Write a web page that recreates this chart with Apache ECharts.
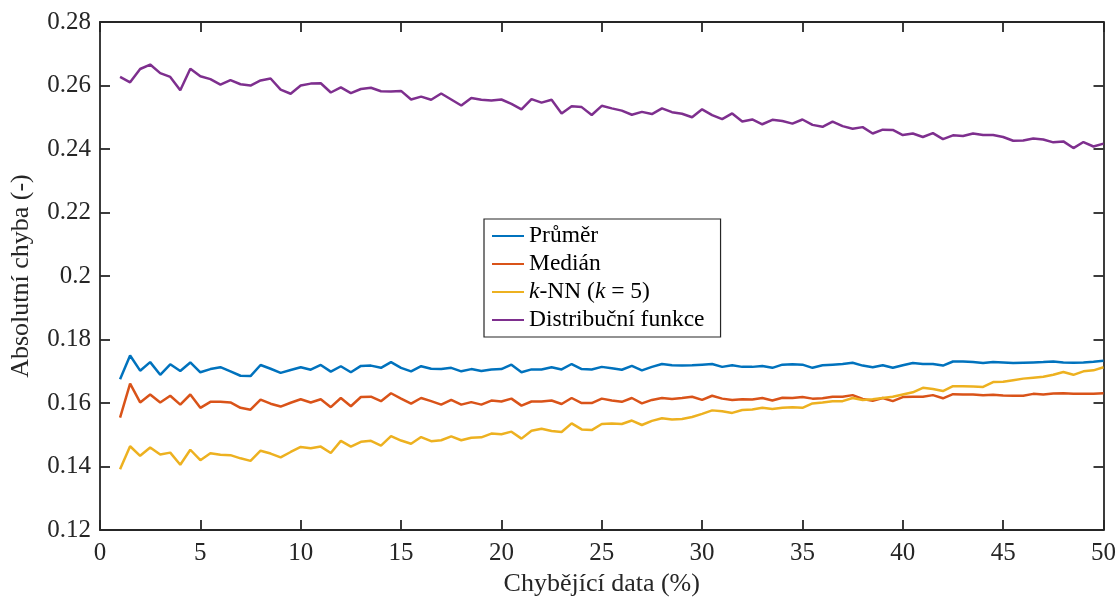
<!DOCTYPE html>
<html>
<head>
<meta charset="utf-8">
<script src="https://cdn.jsdelivr.net/npm/echarts@6/dist/echarts.min.js"></script>
<style>html,body{margin:0;padding:0;background:#fff}#c{width:1119px;height:602px}</style>
</head>
<body>
<div id="c"></div>
<script>
const xValues = [];
for (let i = 0; i < 99; i++) xValues.push(1 + i * 0.5);

const prumer = [0.1675,0.1750,0.1702,0.1729,0.1689,0.1722,0.1701,0.1728,0.1697,0.1707,0.1713,0.1700,0.1686,0.1685,0.1720,0.1708,0.1695,0.1704,0.1713,0.1705,0.1720,0.1699,0.1716,0.1697,
0.1717,0.1718,0.1711,0.1729,0.1711,0.1700,0.1716,0.1708,0.1707,0.1711,0.1700,0.1707,0.1701,0.1706,0.1707,0.1721,0.1697,0.1706,0.1706,0.1713,0.1706,0.1723,0.1707,0.1706,
0.1714,0.1710,0.1705,0.1717,0.1703,0.1714,0.1723,0.1719,0.1718,0.1719,0.1721,0.1723,0.1714,0.1719,0.1714,0.1714,0.1717,0.1711,0.1721,0.1722,0.1721,0.1711,0.1719,0.1721,0.1723,
0.1727,0.1718,0.1713,0.1719,0.1711,0.1719,0.1726,0.1723,0.1723,0.1718,0.1731,0.1731,0.1729,0.1726,0.1729,0.1728,0.1726,0.1727,0.1728,0.1729,0.1731,0.1728,0.1727,0.1728,0.1730,0.1733];

const median = [0.1554,0.1661,0.1602,0.1627,0.1602,0.1623,0.1595,0.1627,0.1585,0.1604,0.1604,0.1602,0.1585,0.1579,0.1611,0.1598,0.1589,0.1601,0.1612,0.1602,0.1612,0.1587,0.1616,0.1590,
0.1619,0.1620,0.1606,0.1631,0.1614,0.1598,0.1616,0.1606,0.1595,0.1610,0.1595,0.1603,0.1595,0.1608,0.1605,0.1614,0.1592,0.1605,0.1605,0.1608,0.1597,0.1616,0.1600,0.1600,
0.1614,0.1608,0.1604,0.1616,0.1599,0.1610,0.1616,0.1613,0.1616,0.1620,0.1610,0.1623,0.1614,0.1610,0.1612,0.1611,0.1616,0.1608,0.1617,0.1616,0.1619,0.1614,0.1615,0.1620,0.1620,
0.1625,0.1613,0.1607,0.1616,0.1606,0.1619,0.1620,0.1620,0.1625,0.1615,0.1628,0.1627,0.1627,0.1625,0.1626,0.1624,0.1623,0.1623,0.1629,0.1627,0.1630,0.1631,0.1629,0.1629,0.1629,0.1631];

const knn = [0.1392,0.1464,0.1434,0.1460,0.1438,0.1444,0.1406,0.1453,0.1420,0.1442,0.1437,0.1436,0.1426,0.1418,0.1450,0.1441,0.1429,0.1446,0.1462,0.1458,0.1463,0.1443,0.1481,0.1463,
0.1478,0.1481,0.1466,0.1496,0.1482,0.1472,0.1493,0.1480,0.1483,0.1495,0.1483,0.1491,0.1492,0.1504,0.1502,0.1510,0.1488,0.1513,0.1519,0.1512,0.1509,0.1536,0.1517,0.1515,
0.1534,0.1536,0.1534,0.1545,0.1531,0.1544,0.1552,0.1548,0.1550,0.1556,0.1566,0.1577,0.1574,0.1569,0.1578,0.1580,0.1585,0.1581,0.1585,0.1587,0.1585,0.1599,0.1602,0.1606,0.1606,
0.1616,0.1610,0.1612,0.1616,0.1620,0.1627,0.1634,0.1648,0.1644,0.1638,0.1653,0.1653,0.1652,0.1651,0.1666,0.1667,0.1672,0.1677,0.1680,0.1683,0.1689,0.1698,0.1689,0.1700,0.1703,0.1713];

const distribucni = [0.2627,0.2610,0.2652,0.2666,0.2639,0.2627,0.2585,0.2653,0.2629,0.2620,0.2603,0.2617,0.2604,0.2600,0.2616,0.2622,0.2587,0.2574,0.2600,0.2606,0.2607,0.2578,0.2594,0.2576,
0.2589,0.2593,0.2582,0.2581,0.2583,0.2556,0.2565,0.2555,0.2575,0.2556,0.2537,0.2561,0.2555,0.2553,0.2556,0.2542,0.2525,0.2557,0.2546,0.2555,0.2512,0.2535,0.2532,0.2507,
0.2536,0.2528,0.2521,0.2508,0.2517,0.2510,0.2528,0.2516,0.2511,0.2500,0.2525,0.2507,0.2494,0.2512,0.2487,0.2493,0.2478,0.2492,0.2488,0.2480,0.2493,0.2476,0.2470,0.2486,0.2472,
0.2464,0.2469,0.2449,0.2461,0.2460,0.2444,0.2449,0.2438,0.2450,0.2431,0.2443,0.2441,0.2449,0.2444,0.2444,0.2438,0.2426,0.2427,0.2433,0.2430,0.2421,0.2424,0.2403,0.2422,0.2408,0.2417];

const seriesNames = ['Průměr', 'Medián', 'k-NN (k = 5)', 'Distribuční funkce'];
const seriesData = [prumer, median, knn, distribucni];
const colors = ['#0072BD', '#D95319', '#EDB120', '#7E2F8E'];
const xName = 'Chybějící data (%)';
const yName = 'Absolutní chyba (-)';

const FONT = '"Liberation Serif", "DejaVu Serif", serif';
const AX = '#262626';

const chart = echarts.init(document.getElementById('c'), null, {renderer: 'canvas'});

function pairs(arr) { return arr.map((v, i) => [xValues[i], v]); }

function axisLine() { return {show: true, onZero: false, lineStyle: {color: AX, width: 1.8}}; }
function tick() { return {show: true, inside: true, length: 10, lineStyle: {color: AX, width: 1.8}}; }

const LF = 23.5;

chart.setOption({
  animation: false,
  backgroundColor: '#fff',
  textStyle: {fontFamily: FONT},
  grid: {left: 100, right: 14, top: 22, bottom: 68, containLabel: false},
  legend: {
    orient: 'vertical',
    left: 484, top: 219,
    padding: [5, 16, 5, 8],
    icon: 'rect',
    itemWidth: 32, itemHeight: 2,
    itemGap: 4,
    backgroundColor: '#fff',
    borderColor: AX, borderWidth: 1.2,
    textStyle: {
      fontFamily: FONT, fontSize: LF, color: '#000', lineHeight: 24,
      rich: {i: {fontFamily: FONT, fontSize: LF, fontStyle: 'italic', color: '#000', lineHeight: 24},
             n: {fontFamily: FONT, fontSize: LF, color: '#000', lineHeight: 24}}
    },
    formatter: function (name) {
      if (name === 'k-NN (k = 5)') return '{i|k}{n|-NN (}{i|k}{n| = 5)}';
      return name;
    },
    data: seriesNames
  },
  xAxis: [{
    type: 'value', min: 0, max: 50, interval: 5, position: 'bottom',
    name: xName, nameLocation: 'middle', nameGap: 38,
    nameTextStyle: {fontFamily: FONT, fontSize: 26, color: '#262626'},
    axisLine: axisLine(), axisTick: tick(),
    axisLabel: {fontFamily: FONT, fontSize: 25, color: '#262626', margin: 11},
    splitLine: {show: false}
  }, {
    type: 'value', min: 0, max: 50, interval: 5, position: 'top',
    axisLine: axisLine(), axisTick: tick(), axisLabel: {show: false}, splitLine: {show: false}
  }],
  yAxis: [{
    type: 'value', min: 0.12, max: 0.28, interval: 0.02, position: 'left',
    name: yName, nameLocation: 'middle', nameGap: 66,
    nameTextStyle: {fontFamily: FONT, fontSize: 26, color: '#262626'},
    axisLine: axisLine(), axisTick: tick(),
    axisLabel: {fontFamily: FONT, fontSize: 25, color: '#262626', margin: 9},
    splitLine: {show: false}
  }, {
    type: 'value', min: 0.12, max: 0.28, interval: 0.02, position: 'right',
    axisLine: axisLine(), axisTick: tick(), axisLabel: {show: false}, splitLine: {show: false}
  }],
  series: seriesNames.map((n, k) => ({
    name: n, type: 'line', data: pairs(seriesData[k]),
    xAxisIndex: 0, yAxisIndex: 0,
    symbol: 'none', smooth: false,
    lineStyle: {color: colors[k], width: 2.5},
    itemStyle: {color: colors[k]},
    z: 2
  }))
});
</script>
</body>
</html>
